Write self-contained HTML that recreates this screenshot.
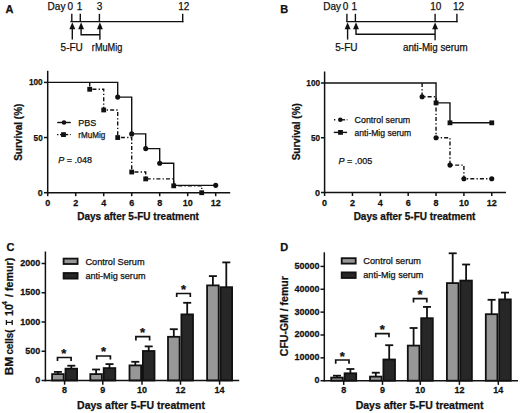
<!DOCTYPE html>
<html><head><meta charset="utf-8"><style>
html,body{margin:0;padding:0;background:#fff;}
body{width:520px;height:413px;overflow:hidden;}
svg{display:block;}
text{font-family:"Liberation Sans",sans-serif;fill:#111;stroke:#111;stroke-width:0.25px;}
</style></head><body>
<svg width="520" height="413" viewBox="0 0 520 413">
<rect width="520" height="413" fill="#fff"/>
<text x="5.6" y="12.8" font-size="11" font-weight="bold" text-anchor="start"  >A</text>
<text x="47.6" y="9.6" font-size="10" font-weight="normal" text-anchor="start"  >Day</text>
<text x="70.4" y="9.6" font-size="10" font-weight="normal" text-anchor="middle"  >0</text>
<text x="79.6" y="9.6" font-size="10" font-weight="normal" text-anchor="middle"  >1</text>
<text x="99.5" y="9.6" font-size="10" font-weight="normal" text-anchor="middle"  >3</text>
<text x="183.8" y="9.6" font-size="10" font-weight="normal" text-anchor="middle"  >12</text>
<line x1="70.3" y1="21.6" x2="183.4" y2="21.6" stroke="#111" stroke-width="1.4" stroke-linecap="butt"/>
<line x1="71.8" y1="13.8" x2="71.8" y2="21.6" stroke="#111" stroke-width="1.4" stroke-linecap="butt"/>
<line x1="80.3" y1="13.8" x2="80.3" y2="21.6" stroke="#111" stroke-width="1.4" stroke-linecap="butt"/>
<line x1="99.4" y1="13.8" x2="99.4" y2="21.6" stroke="#111" stroke-width="1.4" stroke-linecap="butt"/>
<line x1="182.7" y1="13.8" x2="182.7" y2="22.3" stroke="#111" stroke-width="1.4" stroke-linecap="butt"/>
<polygon points="72.3,22.2 69.35,29.2 75.25,29.2" fill="#111"/>
<line x1="72.3" y1="26" x2="72.3" y2="39.6" stroke="#111" stroke-width="1.4" stroke-linecap="butt"/>
<polygon points="81.1,22.2 78.15,29.2 84.05,29.2" fill="#111"/>
<polyline points="81.1,26 81.1,34.8 99.9,34.8" fill="none" stroke="#111" stroke-width="1.4" stroke-linejoin="miter"/>
<polygon points="99.9,22.2 96.95,29.2 102.85,29.2" fill="#111"/>
<line x1="99.9" y1="26" x2="99.9" y2="39.8" stroke="#111" stroke-width="1.4" stroke-linecap="butt"/>
<text x="71.7" y="50.8" font-size="10" font-weight="normal" text-anchor="middle"  >5-FU</text>
<text x="107.1" y="50.8" font-size="10" font-weight="normal" text-anchor="middle"  textLength="30.5" lengthAdjust="spacingAndGlyphs">rMuMig</text>
<text x="280.3" y="12.6" font-size="11" font-weight="bold" text-anchor="start"  >B</text>
<text x="323.2" y="9.6" font-size="10" font-weight="normal" text-anchor="start"  >Day</text>
<text x="345.5" y="9.6" font-size="10" font-weight="normal" text-anchor="middle"  >0</text>
<text x="354.3" y="9.6" font-size="10" font-weight="normal" text-anchor="middle"  >1</text>
<text x="435.8" y="9.6" font-size="10" font-weight="normal" text-anchor="middle"  >10</text>
<text x="458.5" y="9.6" font-size="10" font-weight="normal" text-anchor="middle"  >12</text>
<line x1="346.2" y1="21.6" x2="457.6" y2="21.6" stroke="#111" stroke-width="1.4" stroke-linecap="butt"/>
<line x1="346.9" y1="13.8" x2="346.9" y2="21.6" stroke="#111" stroke-width="1.4" stroke-linecap="butt"/>
<line x1="355.4" y1="13.8" x2="355.4" y2="21.6" stroke="#111" stroke-width="1.4" stroke-linecap="butt"/>
<line x1="435.1" y1="13.8" x2="435.1" y2="21.6" stroke="#111" stroke-width="1.4" stroke-linecap="butt"/>
<line x1="456.9" y1="13.8" x2="456.9" y2="22.3" stroke="#111" stroke-width="1.4" stroke-linecap="butt"/>
<polygon points="347.6,22.2 344.65,29.2 350.55,29.2" fill="#111"/>
<line x1="347.6" y1="26" x2="347.6" y2="39.6" stroke="#111" stroke-width="1.4" stroke-linecap="butt"/>
<polygon points="356,22.2 353.05,29.2 358.95,29.2" fill="#111"/>
<polyline points="356,26 356,34.2 435.1,34.2" fill="none" stroke="#111" stroke-width="1.4" stroke-linejoin="miter"/>
<polygon points="435.1,22.2 432.15,29.2 438.05,29.2" fill="#111"/>
<line x1="435.1" y1="26" x2="435.1" y2="40.3" stroke="#111" stroke-width="1.4" stroke-linecap="butt"/>
<text x="346.4" y="50.7" font-size="10" font-weight="normal" text-anchor="middle"  >5-FU</text>
<text x="435.3" y="50.8" font-size="10" font-weight="normal" text-anchor="middle"  textLength="64.7" lengthAdjust="spacingAndGlyphs">anti-Mig serum</text>
<line x1="47.7" y1="70.8" x2="47.7" y2="193.45" stroke="#111" stroke-width="1.5" stroke-linecap="butt"/>
<line x1="46.95" y1="192.7" x2="230.2" y2="192.7" stroke="#111" stroke-width="1.5" stroke-linecap="butt"/>
<line x1="44" y1="192.7" x2="47.7" y2="192.7" stroke="#111" stroke-width="1.5" stroke-linecap="butt"/>
<text x="42.7" y="195.7" font-size="9.4" font-weight="bold" text-anchor="end"  textLength="5.0" lengthAdjust="spacingAndGlyphs">0</text>
<line x1="44" y1="137.55" x2="47.7" y2="137.55" stroke="#111" stroke-width="1.5" stroke-linecap="butt"/>
<text x="42.7" y="140.55" font-size="9.4" font-weight="bold" text-anchor="end"  textLength="9.1" lengthAdjust="spacingAndGlyphs">50</text>
<line x1="44" y1="82.4" x2="47.7" y2="82.4" stroke="#111" stroke-width="1.5" stroke-linecap="butt"/>
<text x="42.7" y="85.4" font-size="9.4" font-weight="bold" text-anchor="end"  textLength="13.8" lengthAdjust="spacingAndGlyphs">100</text>
<line x1="47.7" y1="192.7" x2="47.7" y2="196.2" stroke="#111" stroke-width="1.5" stroke-linecap="butt"/>
<text transform="translate(47.7,205.8) scale(1,1.1)" font-size="9" font-weight="bold" text-anchor="middle"  >0</text>
<line x1="75.7" y1="192.7" x2="75.7" y2="196.2" stroke="#111" stroke-width="1.5" stroke-linecap="butt"/>
<text transform="translate(75.7,205.8) scale(1,1.1)" font-size="9" font-weight="bold" text-anchor="middle"  >2</text>
<line x1="103.7" y1="192.7" x2="103.7" y2="196.2" stroke="#111" stroke-width="1.5" stroke-linecap="butt"/>
<text transform="translate(103.7,205.8) scale(1,1.1)" font-size="9" font-weight="bold" text-anchor="middle"  >4</text>
<line x1="131.7" y1="192.7" x2="131.7" y2="196.2" stroke="#111" stroke-width="1.5" stroke-linecap="butt"/>
<text transform="translate(131.7,205.8) scale(1,1.1)" font-size="9" font-weight="bold" text-anchor="middle"  >6</text>
<line x1="159.7" y1="192.7" x2="159.7" y2="196.2" stroke="#111" stroke-width="1.5" stroke-linecap="butt"/>
<text transform="translate(159.7,205.8) scale(1,1.1)" font-size="9" font-weight="bold" text-anchor="middle"  >8</text>
<line x1="187.7" y1="192.7" x2="187.7" y2="196.2" stroke="#111" stroke-width="1.5" stroke-linecap="butt"/>
<text transform="translate(187.7,205.8) scale(1,1.1)" font-size="9" font-weight="bold" text-anchor="middle"  >10</text>
<line x1="215.7" y1="192.7" x2="215.7" y2="196.2" stroke="#111" stroke-width="1.5" stroke-linecap="butt"/>
<text transform="translate(215.7,205.8) scale(1,1.1)" font-size="9" font-weight="bold" text-anchor="middle"  >12</text>
<text x="138.1" y="220" font-size="10" font-weight="bold" text-anchor="middle"  >Days after 5-FU treatment</text>
<text transform="translate(22.3,132.2) rotate(-90)" font-size="10" font-weight="bold" text-anchor="middle">Survival (%)</text>
<polyline points="89.7,82.4 89.7,89.29 103.7,89.29 103.7,109.97 117.7,109.97 117.7,137.55 131.7,137.55 131.7,172.02 145.7,172.02 145.7,178.91 173.7,178.91 173.7,185.81 201.7,185.81 201.7,192.7" fill="none" stroke="#111" stroke-width="1.4" stroke-linejoin="miter" stroke-dasharray="4 2.2 1.3 2.1"/>
<polyline points="47.7,82.4 117.7,82.4 117.7,97.1 131.7,97.1 131.7,133.88 145.7,133.88 145.7,148.58 159.7,148.58 159.7,163.28 173.7,163.28 173.7,185.34 215.7,185.34 215.7,185.34" fill="none" stroke="#111" stroke-width="1.4" stroke-linejoin="miter"/>
<circle cx="117.7" cy="97.1" r="2.55" fill="#111"/>
<circle cx="131.7" cy="133.88" r="2.55" fill="#111"/>
<circle cx="145.7" cy="148.58" r="2.55" fill="#111"/>
<circle cx="159.7" cy="163.28" r="2.55" fill="#111"/>
<circle cx="215.7" cy="185.34" r="2.55" fill="#111"/>
<rect x="87.3" y="86.89" width="4.8" height="4.8" fill="#111"/>
<rect x="101.3" y="107.57" width="4.8" height="4.8" fill="#111"/>
<rect x="115.3" y="135.15" width="4.8" height="4.8" fill="#111"/>
<rect x="129.3" y="169.62" width="4.8" height="4.8" fill="#111"/>
<rect x="143.3" y="176.51" width="4.8" height="4.8" fill="#111"/>
<rect x="171.3" y="183.41" width="4.8" height="4.8" fill="#111"/>
<rect x="199.3" y="190.3" width="4.8" height="4.8" fill="#111"/>
<line x1="57.2" y1="122.5" x2="70.8" y2="122.5" stroke="#111" stroke-width="1.4" stroke-linecap="butt"/>
<circle cx="64" cy="122.5" r="2.3" fill="#111"/>
<line x1="57" y1="134.6" x2="58.4" y2="134.6" stroke="#111" stroke-width="1.4" stroke-linecap="butt"/>
<line x1="60" y1="134.6" x2="68.2" y2="134.6" stroke="#111" stroke-width="1.4" stroke-linecap="butt"/>
<line x1="69.9" y1="134.6" x2="70.9" y2="134.6" stroke="#111" stroke-width="1.0" stroke-linecap="butt"/>
<rect x="61.1" y="132.2" width="4.8" height="4.8" fill="#111"/>
<text x="78.3" y="125.6" font-size="9" font-weight="normal" text-anchor="start"  >PBS</text>
<text x="78.3" y="137.9" font-size="9" font-weight="normal" text-anchor="start"  textLength="27.0" lengthAdjust="spacingAndGlyphs">rMuMig</text>
<text x="58.3" y="163.1" font-size="9" font-weight="normal" text-anchor="start"  ><tspan font-style="italic">P</tspan> = .048</text>
<line x1="324.6" y1="71.5" x2="324.6" y2="193.25" stroke="#111" stroke-width="1.5" stroke-linecap="butt"/>
<line x1="323.85" y1="192.5" x2="506" y2="192.5" stroke="#111" stroke-width="1.5" stroke-linecap="butt"/>
<line x1="321" y1="192.5" x2="324.6" y2="192.5" stroke="#111" stroke-width="1.5" stroke-linecap="butt"/>
<text x="320.1" y="195.5" font-size="9.4" font-weight="bold" text-anchor="end"  textLength="5.0" lengthAdjust="spacingAndGlyphs">0</text>
<line x1="321" y1="137.75" x2="324.6" y2="137.75" stroke="#111" stroke-width="1.5" stroke-linecap="butt"/>
<text x="320.1" y="140.75" font-size="9.4" font-weight="bold" text-anchor="end"  textLength="9.1" lengthAdjust="spacingAndGlyphs">50</text>
<line x1="321" y1="83" x2="324.6" y2="83" stroke="#111" stroke-width="1.5" stroke-linecap="butt"/>
<text x="320.1" y="86" font-size="9.4" font-weight="bold" text-anchor="end"  textLength="13.8" lengthAdjust="spacingAndGlyphs">100</text>
<line x1="324.6" y1="192.5" x2="324.6" y2="196" stroke="#111" stroke-width="1.5" stroke-linecap="butt"/>
<text transform="translate(324.6,205.9) scale(1,1.1)" font-size="9" font-weight="bold" text-anchor="middle"  >0</text>
<line x1="352.46" y1="192.5" x2="352.46" y2="196" stroke="#111" stroke-width="1.5" stroke-linecap="butt"/>
<text transform="translate(352.46,205.9) scale(1,1.1)" font-size="9" font-weight="bold" text-anchor="middle"  >2</text>
<line x1="380.32" y1="192.5" x2="380.32" y2="196" stroke="#111" stroke-width="1.5" stroke-linecap="butt"/>
<text transform="translate(380.32,205.9) scale(1,1.1)" font-size="9" font-weight="bold" text-anchor="middle"  >4</text>
<line x1="408.18" y1="192.5" x2="408.18" y2="196" stroke="#111" stroke-width="1.5" stroke-linecap="butt"/>
<text transform="translate(408.18,205.9) scale(1,1.1)" font-size="9" font-weight="bold" text-anchor="middle"  >6</text>
<line x1="436.04" y1="192.5" x2="436.04" y2="196" stroke="#111" stroke-width="1.5" stroke-linecap="butt"/>
<text transform="translate(436.04,205.9) scale(1,1.1)" font-size="9" font-weight="bold" text-anchor="middle"  >8</text>
<line x1="463.9" y1="192.5" x2="463.9" y2="196" stroke="#111" stroke-width="1.5" stroke-linecap="butt"/>
<text transform="translate(463.9,205.9) scale(1,1.1)" font-size="9" font-weight="bold" text-anchor="middle"  >10</text>
<line x1="491.76" y1="192.5" x2="491.76" y2="196" stroke="#111" stroke-width="1.5" stroke-linecap="butt"/>
<text transform="translate(491.76,205.9) scale(1,1.1)" font-size="9" font-weight="bold" text-anchor="middle"  >12</text>
<text x="414.5" y="219.6" font-size="10" font-weight="bold" text-anchor="middle"  >Days after 5-FU treatment</text>
<text transform="translate(299.5,131.7) rotate(-90)" font-size="10" font-weight="bold" text-anchor="middle">Survival (%)</text>
<polyline points="422.11,83 422.11,96.69 436.04,96.69 436.04,137.75 449.97,137.75 449.97,165.12 463.9,165.12 463.9,178.81 491.76,178.81 491.76,178.81" fill="none" stroke="#111" stroke-width="1.4" stroke-linejoin="miter" stroke-dasharray="4 2.2 1.3 2.1"/>
<polyline points="324.6,83 436.04,83 436.04,102.91 449.97,102.91 449.97,122.81 491.76,122.81 491.76,122.81" fill="none" stroke="#111" stroke-width="1.4" stroke-linejoin="miter"/>
<circle cx="422.11" cy="96.69" r="2.55" fill="#111"/>
<circle cx="436.04" cy="137.75" r="2.55" fill="#111"/>
<circle cx="449.97" cy="165.12" r="2.55" fill="#111"/>
<circle cx="463.9" cy="178.81" r="2.55" fill="#111"/>
<circle cx="491.76" cy="178.81" r="2.55" fill="#111"/>
<rect x="433.64" y="100.51" width="4.8" height="4.8" fill="#111"/>
<rect x="447.57" y="120.41" width="4.8" height="4.8" fill="#111"/>
<rect x="489.36" y="120.41" width="4.8" height="4.8" fill="#111"/>
<line x1="334" y1="119.8" x2="335.3" y2="119.8" stroke="#111" stroke-width="1.4" stroke-linecap="butt"/>
<line x1="339" y1="119.8" x2="345.1" y2="119.8" stroke="#111" stroke-width="1.4" stroke-linecap="butt"/>
<line x1="346.6" y1="119.8" x2="347.5" y2="119.8" stroke="#111" stroke-width="1.0" stroke-linecap="butt"/>
<circle cx="340.3" cy="119.8" r="2.3" fill="#111"/>
<line x1="333.8" y1="132.4" x2="347.1" y2="132.4" stroke="#111" stroke-width="1.4" stroke-linecap="butt"/>
<rect x="338.1" y="130" width="4.8" height="4.8" fill="#111"/>
<text x="354.6" y="122.9" font-size="9" font-weight="normal" text-anchor="start"  textLength="55.6" lengthAdjust="spacingAndGlyphs">Control serum</text>
<text x="354.6" y="136" font-size="9" font-weight="normal" text-anchor="start"  textLength="56.6" lengthAdjust="spacingAndGlyphs">anti-Mig serum</text>
<text x="338.4" y="163.6" font-size="9" font-weight="normal" text-anchor="start"  ><tspan font-style="italic">P</tspan> = .005</text>
<line x1="57.9" y1="371.9" x2="57.9" y2="374.1" stroke="#111" stroke-width="1.8" stroke-linecap="butt"/>
<line x1="53.9" y1="371.9" x2="61.9" y2="371.9" stroke="#111" stroke-width="1.8" stroke-linecap="butt"/>
<rect x="52.1" y="374.1" width="11.6" height="6.4" fill="#979797" stroke="#111" stroke-width="1.8"/>
<line x1="71.3" y1="365.7" x2="71.3" y2="368.7" stroke="#111" stroke-width="1.8" stroke-linecap="butt"/>
<line x1="67.3" y1="365.7" x2="75.3" y2="365.7" stroke="#111" stroke-width="1.8" stroke-linecap="butt"/>
<rect x="65.5" y="368.7" width="11.6" height="11.8" fill="#272727" stroke="#111" stroke-width="1.8"/>
<line x1="96.1" y1="369.5" x2="96.1" y2="374.1" stroke="#111" stroke-width="1.8" stroke-linecap="butt"/>
<line x1="92.1" y1="369.5" x2="100.1" y2="369.5" stroke="#111" stroke-width="1.8" stroke-linecap="butt"/>
<rect x="90.3" y="374.1" width="11.6" height="6.4" fill="#979797" stroke="#111" stroke-width="1.8"/>
<line x1="109.5" y1="364.1" x2="109.5" y2="368.1" stroke="#111" stroke-width="1.8" stroke-linecap="butt"/>
<line x1="105.5" y1="364.1" x2="113.5" y2="364.1" stroke="#111" stroke-width="1.8" stroke-linecap="butt"/>
<rect x="103.7" y="368.1" width="11.6" height="12.4" fill="#272727" stroke="#111" stroke-width="1.8"/>
<line x1="135.3" y1="361.8" x2="135.3" y2="365.4" stroke="#111" stroke-width="1.8" stroke-linecap="butt"/>
<line x1="131.3" y1="361.8" x2="139.3" y2="361.8" stroke="#111" stroke-width="1.8" stroke-linecap="butt"/>
<rect x="129.5" y="365.4" width="11.6" height="15.1" fill="#979797" stroke="#111" stroke-width="1.8"/>
<line x1="148.7" y1="346.4" x2="148.7" y2="351" stroke="#111" stroke-width="1.8" stroke-linecap="butt"/>
<line x1="144.7" y1="346.4" x2="152.7" y2="346.4" stroke="#111" stroke-width="1.8" stroke-linecap="butt"/>
<rect x="142.9" y="351" width="11.6" height="29.5" fill="#272727" stroke="#111" stroke-width="1.8"/>
<line x1="173.8" y1="329.2" x2="173.8" y2="336.8" stroke="#111" stroke-width="1.8" stroke-linecap="butt"/>
<line x1="169.8" y1="329.2" x2="177.8" y2="329.2" stroke="#111" stroke-width="1.8" stroke-linecap="butt"/>
<rect x="168" y="336.8" width="11.6" height="43.7" fill="#979797" stroke="#111" stroke-width="1.8"/>
<line x1="187.2" y1="302.8" x2="187.2" y2="314.4" stroke="#111" stroke-width="1.8" stroke-linecap="butt"/>
<line x1="183.2" y1="302.8" x2="191.2" y2="302.8" stroke="#111" stroke-width="1.8" stroke-linecap="butt"/>
<rect x="181.4" y="314.4" width="11.6" height="66.1" fill="#272727" stroke="#111" stroke-width="1.8"/>
<line x1="212.9" y1="276.1" x2="212.9" y2="285.4" stroke="#111" stroke-width="1.8" stroke-linecap="butt"/>
<line x1="208.9" y1="276.1" x2="216.9" y2="276.1" stroke="#111" stroke-width="1.8" stroke-linecap="butt"/>
<rect x="207.1" y="285.4" width="11.6" height="95.1" fill="#979797" stroke="#111" stroke-width="1.8"/>
<line x1="226.3" y1="262.4" x2="226.3" y2="287.2" stroke="#111" stroke-width="1.8" stroke-linecap="butt"/>
<line x1="222.3" y1="262.4" x2="230.3" y2="262.4" stroke="#111" stroke-width="1.8" stroke-linecap="butt"/>
<rect x="220.5" y="287.2" width="11.6" height="93.3" fill="#272727" stroke="#111" stroke-width="1.8"/>
<line x1="45.4" y1="251.5" x2="45.4" y2="381.25" stroke="#111" stroke-width="1.5" stroke-linecap="butt"/>
<line x1="44.65" y1="380.5" x2="239.2" y2="380.5" stroke="#111" stroke-width="1.5" stroke-linecap="butt"/>
<line x1="41.6" y1="380.5" x2="45.4" y2="380.5" stroke="#111" stroke-width="1.5" stroke-linecap="butt"/>
<text transform="translate(40.2,383) scale(1,1.1)" font-size="9" font-weight="bold" text-anchor="end"  >0</text>
<line x1="41.6" y1="351.25" x2="45.4" y2="351.25" stroke="#111" stroke-width="1.5" stroke-linecap="butt"/>
<text transform="translate(40.2,353.75) scale(1,1.1)" font-size="9" font-weight="bold" text-anchor="end"  >500</text>
<line x1="41.6" y1="322" x2="45.4" y2="322" stroke="#111" stroke-width="1.5" stroke-linecap="butt"/>
<text transform="translate(40.2,324.5) scale(1,1.1)" font-size="9" font-weight="bold" text-anchor="end"  >1000</text>
<line x1="41.6" y1="292.75" x2="45.4" y2="292.75" stroke="#111" stroke-width="1.5" stroke-linecap="butt"/>
<text transform="translate(40.2,295.25) scale(1,1.1)" font-size="9" font-weight="bold" text-anchor="end"  >1500</text>
<line x1="41.6" y1="263.5" x2="45.4" y2="263.5" stroke="#111" stroke-width="1.5" stroke-linecap="butt"/>
<text transform="translate(40.2,266) scale(1,1.1)" font-size="9" font-weight="bold" text-anchor="end"  >2000</text>
<line x1="64.6" y1="380.5" x2="64.6" y2="384.7" stroke="#111" stroke-width="1.5" stroke-linecap="butt"/>
<text transform="translate(64.6,393.3) scale(1,1.1)" font-size="9" font-weight="bold" text-anchor="middle"  >8</text>
<line x1="102.8" y1="380.5" x2="102.8" y2="384.7" stroke="#111" stroke-width="1.5" stroke-linecap="butt"/>
<text transform="translate(102.8,393.3) scale(1,1.1)" font-size="9" font-weight="bold" text-anchor="middle"  >9</text>
<line x1="142" y1="380.5" x2="142" y2="384.7" stroke="#111" stroke-width="1.5" stroke-linecap="butt"/>
<text transform="translate(142,393.3) scale(1,1.1)" font-size="9" font-weight="bold" text-anchor="middle"  >10</text>
<line x1="180.5" y1="380.5" x2="180.5" y2="384.7" stroke="#111" stroke-width="1.5" stroke-linecap="butt"/>
<text transform="translate(180.5,393.3) scale(1,1.1)" font-size="9" font-weight="bold" text-anchor="middle"  >12</text>
<line x1="219.6" y1="380.5" x2="219.6" y2="384.7" stroke="#111" stroke-width="1.5" stroke-linecap="butt"/>
<text transform="translate(219.6,393.3) scale(1,1.1)" font-size="9" font-weight="bold" text-anchor="middle"  >14</text>
<polyline points="57.5,361 57.5,357.5 71.1,357.5 71.1,361" fill="none" stroke="#111" stroke-width="1.7" stroke-linejoin="miter"/>
<text x="63.8" y="357.7" font-size="13" font-weight="bold" text-anchor="middle"  >*</text>
<polyline points="96.7,359.4 96.7,356 110.4,356 110.4,359.4" fill="none" stroke="#111" stroke-width="1.7" stroke-linejoin="miter"/>
<text x="103.6" y="356.2" font-size="13" font-weight="bold" text-anchor="middle"  >*</text>
<polyline points="135.9,340.6 135.9,336.6 149.6,336.6 149.6,340.6" fill="none" stroke="#111" stroke-width="1.7" stroke-linejoin="miter"/>
<text x="142.5" y="337.2" font-size="13" font-weight="bold" text-anchor="middle"  >*</text>
<polyline points="176.7,296.9 176.7,293.5 190.3,293.5 190.3,296.9" fill="none" stroke="#111" stroke-width="1.7" stroke-linejoin="miter"/>
<text x="183.5" y="293.9" font-size="13" font-weight="bold" text-anchor="middle"  >*</text>
<text x="141" y="408.9" font-size="10.5" font-weight="bold" text-anchor="middle"  >Days after 5-FU treatment</text>
<g transform="translate(12.8,375) rotate(-90)"><text x="-0.3" y="0" font-size="10.7" font-weight="bold" textLength="18.3" lengthAdjust="spacingAndGlyphs">BM</text><text x="20.4" y="0" font-size="10.7" font-weight="bold" textLength="25.2" lengthAdjust="spacingAndGlyphs">cells(</text><path d="M50.1,-0.6 H55 M50.1,-6.4 H55 M52.55,-0.6 V-6.4" stroke="#111" stroke-width="1.3" fill="none"/><text x="59.0" y="0" font-size="10.7" font-weight="bold">10</text><text x="70.0" y="-5.6" font-size="6.8" font-weight="bold">4</text><text x="78.0" y="0" font-size="10.7" font-weight="bold">/ femur)</text></g>
<rect x="63.6" y="258.6" width="14" height="5.4" fill="#979797" stroke="#111" stroke-width="1.8"/>
<rect x="63.6" y="273" width="14" height="5.6" fill="#272727" stroke="#111" stroke-width="1.8"/>
<text x="85.4" y="265" font-size="9.2" font-weight="normal" text-anchor="start"  >Control Serum</text>
<text x="85.4" y="279" font-size="9.1" font-weight="normal" text-anchor="start"  >anti-Mig serum</text>
<text x="6.6" y="250.8" font-size="11" font-weight="bold" text-anchor="start"  >C</text>
<line x1="337" y1="375.7" x2="337" y2="377.6" stroke="#111" stroke-width="1.8" stroke-linecap="butt"/>
<line x1="333" y1="375.7" x2="341" y2="375.7" stroke="#111" stroke-width="1.8" stroke-linecap="butt"/>
<rect x="331.2" y="377.6" width="11.6" height="3.1" fill="#979797" stroke="#111" stroke-width="1.8"/>
<line x1="350.4" y1="369" x2="350.4" y2="373.3" stroke="#111" stroke-width="1.8" stroke-linecap="butt"/>
<line x1="346.4" y1="369" x2="354.4" y2="369" stroke="#111" stroke-width="1.8" stroke-linecap="butt"/>
<rect x="344.6" y="373.3" width="11.6" height="7.4" fill="#272727" stroke="#111" stroke-width="1.8"/>
<line x1="375.8" y1="372.7" x2="375.8" y2="376.6" stroke="#111" stroke-width="1.8" stroke-linecap="butt"/>
<line x1="371.8" y1="372.7" x2="379.8" y2="372.7" stroke="#111" stroke-width="1.8" stroke-linecap="butt"/>
<rect x="370" y="376.6" width="11.6" height="4.1" fill="#979797" stroke="#111" stroke-width="1.8"/>
<line x1="389.2" y1="345.2" x2="389.2" y2="359.5" stroke="#111" stroke-width="1.8" stroke-linecap="butt"/>
<line x1="385.2" y1="345.2" x2="393.2" y2="345.2" stroke="#111" stroke-width="1.8" stroke-linecap="butt"/>
<rect x="383.4" y="359.5" width="11.6" height="21.2" fill="#272727" stroke="#111" stroke-width="1.8"/>
<line x1="413.6" y1="328" x2="413.6" y2="345.6" stroke="#111" stroke-width="1.8" stroke-linecap="butt"/>
<line x1="409.6" y1="328" x2="417.6" y2="328" stroke="#111" stroke-width="1.8" stroke-linecap="butt"/>
<rect x="407.8" y="345.6" width="11.6" height="35.1" fill="#979797" stroke="#111" stroke-width="1.8"/>
<line x1="427" y1="306.9" x2="427" y2="318.2" stroke="#111" stroke-width="1.8" stroke-linecap="butt"/>
<line x1="423" y1="306.9" x2="431" y2="306.9" stroke="#111" stroke-width="1.8" stroke-linecap="butt"/>
<rect x="421.2" y="318.2" width="11.6" height="62.5" fill="#272727" stroke="#111" stroke-width="1.8"/>
<line x1="452.7" y1="253.3" x2="452.7" y2="283.1" stroke="#111" stroke-width="1.8" stroke-linecap="butt"/>
<line x1="448.7" y1="253.3" x2="456.7" y2="253.3" stroke="#111" stroke-width="1.8" stroke-linecap="butt"/>
<rect x="446.9" y="283.1" width="11.6" height="97.6" fill="#979797" stroke="#111" stroke-width="1.8"/>
<line x1="466.1" y1="264.5" x2="466.1" y2="280.6" stroke="#111" stroke-width="1.8" stroke-linecap="butt"/>
<line x1="462.1" y1="264.5" x2="470.1" y2="264.5" stroke="#111" stroke-width="1.8" stroke-linecap="butt"/>
<rect x="460.3" y="280.6" width="11.6" height="100.1" fill="#272727" stroke="#111" stroke-width="1.8"/>
<line x1="491.6" y1="299.8" x2="491.6" y2="314.2" stroke="#111" stroke-width="1.8" stroke-linecap="butt"/>
<line x1="487.6" y1="299.8" x2="495.6" y2="299.8" stroke="#111" stroke-width="1.8" stroke-linecap="butt"/>
<rect x="485.8" y="314.2" width="11.6" height="66.5" fill="#979797" stroke="#111" stroke-width="1.8"/>
<line x1="505" y1="292.6" x2="505" y2="299.4" stroke="#111" stroke-width="1.8" stroke-linecap="butt"/>
<line x1="501" y1="292.6" x2="509" y2="292.6" stroke="#111" stroke-width="1.8" stroke-linecap="butt"/>
<rect x="499.2" y="299.4" width="11.6" height="81.3" fill="#272727" stroke="#111" stroke-width="1.8"/>
<line x1="324.3" y1="252.3" x2="324.3" y2="381.45" stroke="#111" stroke-width="1.5" stroke-linecap="butt"/>
<line x1="323.55" y1="380.7" x2="518" y2="380.7" stroke="#111" stroke-width="1.5" stroke-linecap="butt"/>
<line x1="320.5" y1="380.7" x2="324.3" y2="380.7" stroke="#111" stroke-width="1.5" stroke-linecap="butt"/>
<text transform="translate(319.6,383.2) scale(1,1.1)" font-size="9" font-weight="bold" text-anchor="end"  >0</text>
<line x1="320.5" y1="357.84" x2="324.3" y2="357.84" stroke="#111" stroke-width="1.5" stroke-linecap="butt"/>
<text transform="translate(319.6,360.34) scale(1,1.1)" font-size="9" font-weight="bold" text-anchor="end"  >10000</text>
<line x1="320.5" y1="334.99" x2="324.3" y2="334.99" stroke="#111" stroke-width="1.5" stroke-linecap="butt"/>
<text transform="translate(319.6,337.49) scale(1,1.1)" font-size="9" font-weight="bold" text-anchor="end"  >20000</text>
<line x1="320.5" y1="312.13" x2="324.3" y2="312.13" stroke="#111" stroke-width="1.5" stroke-linecap="butt"/>
<text transform="translate(319.6,314.63) scale(1,1.1)" font-size="9" font-weight="bold" text-anchor="end"  >30000</text>
<line x1="320.5" y1="289.28" x2="324.3" y2="289.28" stroke="#111" stroke-width="1.5" stroke-linecap="butt"/>
<text transform="translate(319.6,291.78) scale(1,1.1)" font-size="9" font-weight="bold" text-anchor="end"  >40000</text>
<line x1="320.5" y1="266.42" x2="324.3" y2="266.42" stroke="#111" stroke-width="1.5" stroke-linecap="butt"/>
<text transform="translate(319.6,268.92) scale(1,1.1)" font-size="9" font-weight="bold" text-anchor="end"  >50000</text>
<line x1="343.7" y1="380.7" x2="343.7" y2="384.9" stroke="#111" stroke-width="1.5" stroke-linecap="butt"/>
<text transform="translate(343.7,393.3) scale(1,1.1)" font-size="9" font-weight="bold" text-anchor="middle"  >8</text>
<line x1="382.5" y1="380.7" x2="382.5" y2="384.9" stroke="#111" stroke-width="1.5" stroke-linecap="butt"/>
<text transform="translate(382.5,393.3) scale(1,1.1)" font-size="9" font-weight="bold" text-anchor="middle"  >9</text>
<line x1="420.3" y1="380.7" x2="420.3" y2="384.9" stroke="#111" stroke-width="1.5" stroke-linecap="butt"/>
<text transform="translate(420.3,393.3) scale(1,1.1)" font-size="9" font-weight="bold" text-anchor="middle"  >10</text>
<line x1="459.4" y1="380.7" x2="459.4" y2="384.9" stroke="#111" stroke-width="1.5" stroke-linecap="butt"/>
<text transform="translate(459.4,393.3) scale(1,1.1)" font-size="9" font-weight="bold" text-anchor="middle"  >12</text>
<line x1="498.3" y1="380.7" x2="498.3" y2="384.9" stroke="#111" stroke-width="1.5" stroke-linecap="butt"/>
<text transform="translate(498.3,393.3) scale(1,1.1)" font-size="9" font-weight="bold" text-anchor="middle"  >14</text>
<polyline points="335.7,363.7 335.7,360 349,360 349,363.7" fill="none" stroke="#111" stroke-width="1.7" stroke-linejoin="miter"/>
<text x="342.2" y="361.3" font-size="13" font-weight="bold" text-anchor="middle"  >*</text>
<polyline points="375.7,337.3 375.7,333.6 389,333.6 389,337.3" fill="none" stroke="#111" stroke-width="1.7" stroke-linejoin="miter"/>
<text x="382.4" y="334.1" font-size="13" font-weight="bold" text-anchor="middle"  >*</text>
<polyline points="413.5,302.4 413.5,298.7 426.8,298.7 426.8,302.4" fill="none" stroke="#111" stroke-width="1.7" stroke-linejoin="miter"/>
<text x="420.1" y="299.1" font-size="13" font-weight="bold" text-anchor="middle"  >*</text>
<text x="419.6" y="408.9" font-size="10.5" font-weight="bold" text-anchor="middle"  >Days after 5-FU treatment</text>
<text transform="translate(288.3,316.2) rotate(-90)" font-size="10.5" font-weight="bold" text-anchor="middle">CFU-GM / femur</text>
<rect x="341.7" y="258.2" width="14" height="5.4" fill="#979797" stroke="#111" stroke-width="1.8"/>
<rect x="341.7" y="272.4" width="14" height="5.6" fill="#272727" stroke="#111" stroke-width="1.8"/>
<text x="363.3" y="263.8" font-size="9.2" font-weight="normal" text-anchor="start"  >Control serum</text>
<text x="363.3" y="278.4" font-size="9.1" font-weight="normal" text-anchor="start"  >anti-Mig serum</text>
<text x="280.3" y="250.8" font-size="11" font-weight="bold" text-anchor="start"  >D</text>
</svg>
</body></html>
